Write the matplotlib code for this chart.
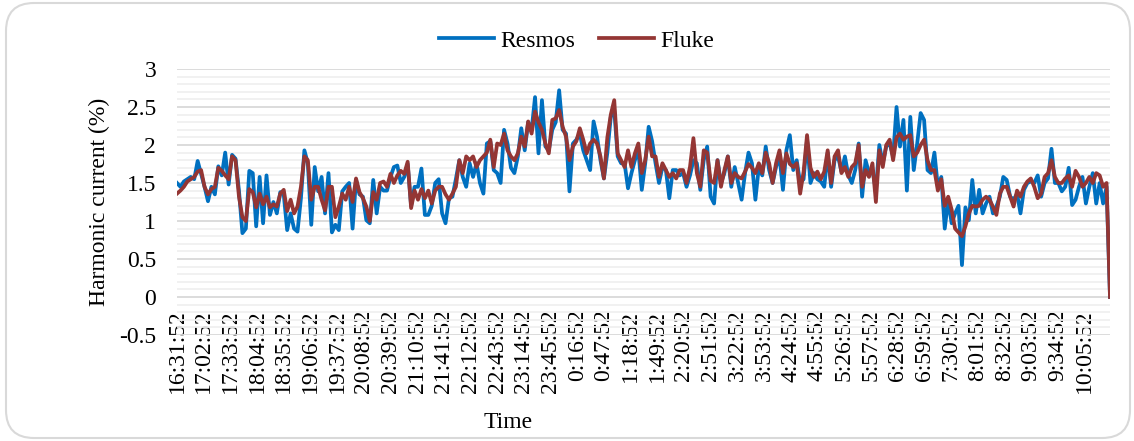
import numpy as np
import matplotlib
matplotlib.use("Agg")
import matplotlib.pyplot as plt
from matplotlib.ticker import MultipleLocator
from matplotlib.patches import FancyBboxPatch
from matplotlib.lines import Line2D

plt.rcParams['font.family'] = ['Liberation Serif', 'DejaVu Serif']

# ---- data (sampled every 4 minutes starting 16:31:52) ----
SAMPLE_MIN = 4
resmos = [
    # 16:31 - 19:31
    1.50, 1.45, 1.52, 1.55, 1.58, 1.55, 1.79, 1.62, 1.45, 1.26,
    1.45, 1.35, 1.72, 1.60, 1.90, 1.48, 1.87, 1.82, 1.40, 0.84,
    0.90, 1.66, 1.63, 0.93, 1.58, 0.97, 1.60, 1.08, 1.25, 1.10,
    1.38, 1.35, 0.88, 1.10, 0.90, 0.86, 1.30, 1.93, 1.76, 0.95,
    1.71, 1.39, 1.58, 1.10, 1.63, 0.85,
    # 19:35 - 22:35
    0.95, 0.88, 1.39, 1.45, 1.50, 0.90, 1.54, 1.35, 1.32, 1.01,
    0.97, 1.54, 1.10, 1.45, 1.40, 1.40, 1.58, 1.71, 1.73, 1.50,
    1.58, 1.75, 1.20, 1.45, 1.45, 1.69, 1.08, 1.08, 1.20, 1.50,
    1.55, 1.10, 0.97, 1.30, 1.32, 1.55, 1.80, 1.58, 1.45, 1.76,
    1.58, 1.76, 1.50, 1.36, 2.02, 2.05,
    # 22:39 - 1:35
    1.67, 1.63, 1.50, 2.20, 2.02, 1.70, 1.63, 1.85, 2.22, 1.93,
    2.30, 2.20, 2.63, 1.89, 2.59, 1.98, 1.93, 2.20, 2.30, 2.72,
    2.20, 2.15, 1.39, 2.02, 2.07, 2.15, 1.93, 1.80, 1.67, 2.31,
    2.11, 1.80, 1.56, 1.90, 2.37, 2.46, 1.85, 1.76, 1.76, 1.43,
    1.63, 1.80, 1.93, 1.41, 1.76,
    # 1:39 - 4:35
    2.24, 2.05, 1.76, 1.50, 1.71, 1.67, 1.30, 1.67, 1.67, 1.60,
    1.63, 1.45, 1.60, 1.80, 1.76, 1.41, 1.80, 1.98, 1.32, 1.23,
    1.80, 1.50, 1.63, 1.85, 1.45, 1.71, 1.50, 1.28, 1.63, 1.90,
    1.76, 1.28, 1.71, 1.60, 1.98, 1.67, 1.50, 1.71, 1.85, 1.41,
    1.93, 2.13, 1.67, 1.80, 1.50,
    # 4:39 - 7:35
    1.55, 2.07, 1.50, 1.63, 1.55, 1.52, 1.45, 1.90, 1.45, 1.80,
    1.85, 1.65, 1.85, 1.60, 1.50, 1.67, 2.02, 1.32, 1.80, 1.63,
    1.67, 1.40, 2.00, 1.76, 1.98, 2.02, 1.85, 2.50, 1.98, 2.33,
    1.40, 2.37, 1.67, 2.02, 2.42, 2.33, 1.67, 1.63, 1.90, 1.45,
    1.58, 0.90, 1.28, 0.97, 1.10,
    # 7:39 - 10:35
    1.20, 0.42, 1.18, 1.01, 1.54, 1.10, 1.41, 1.10, 1.23, 1.32,
    1.10, 1.19, 1.32, 1.58, 1.54, 1.32, 1.28, 1.36, 1.10, 1.41,
    1.50, 1.52, 1.50, 1.60, 1.32, 1.50, 1.56, 1.95, 1.50, 1.50,
    1.39, 1.45, 1.70, 1.21, 1.28, 1.45, 1.58, 1.23, 1.45, 1.63,
    1.23, 1.50, 1.23, 1.45, 0.00,
]
fluke = [
    # 16:31 - 19:31
    1.36, 1.40, 1.45, 1.52, 1.55, 1.58, 1.65, 1.67, 1.45, 1.35,
    1.42, 1.45, 1.70, 1.66, 1.60, 1.55, 1.85, 1.80, 1.32, 1.05,
    1.00, 1.42, 1.38, 1.18, 1.36, 1.22, 1.32, 1.18, 1.22, 1.19,
    1.36, 1.41, 1.13, 1.28, 1.10, 1.19, 1.45, 1.85, 1.80, 1.28,
    1.45, 1.45, 1.28, 1.14, 1.45, 1.45,
    # 19:35 - 22:35
    1.05, 1.19, 1.36, 1.28, 1.45, 1.25, 1.56, 1.38, 1.30, 1.19,
    1.00, 1.38, 1.28, 1.50, 1.52, 1.45, 1.62, 1.50, 1.60, 1.66,
    1.62, 1.78, 1.17, 1.40, 1.28, 1.42, 1.30, 1.40, 1.23, 1.40,
    1.45, 1.45, 1.35, 1.28, 1.36, 1.45, 1.80, 1.63, 1.85, 1.80,
    1.85, 1.71, 1.80, 1.85, 1.90, 2.07,
    # 22:39 - 1:35
    1.71, 2.02, 2.00, 2.15, 1.93, 1.85, 1.80, 1.89, 2.11, 1.98,
    2.31, 2.15, 2.44, 2.30, 2.20, 2.02, 1.89, 2.33, 2.35, 2.46,
    2.24, 2.11, 1.80, 1.98, 2.05, 2.22, 2.07, 1.89, 2.02, 2.07,
    2.02, 1.85, 1.56, 2.10, 2.40, 2.59, 1.89, 1.80, 1.71, 1.93,
    1.71, 1.89, 2.02, 1.63, 1.80,
    # 1:39 - 4:35
    2.11, 1.85, 1.85, 1.58, 1.76, 1.67, 1.58, 1.63, 1.56, 1.67,
    1.67, 1.50, 1.71, 2.09, 1.63, 1.45, 1.93, 1.90, 1.53, 1.50,
    1.80, 1.45, 1.67, 1.85, 1.50, 1.63, 1.58, 1.56, 1.65, 1.75,
    1.70, 1.63, 1.76, 1.63, 1.90, 1.76, 1.50, 1.76, 1.93, 1.63,
    1.89, 1.75, 1.71, 1.76, 1.36,
    # 4:39 - 7:35
    1.65, 2.13, 1.70, 1.58, 1.65, 1.55, 1.65, 1.93, 1.50, 1.85,
    1.93, 1.63, 1.71, 1.58, 1.71, 1.76, 2.00, 1.45, 1.67, 1.58,
    1.76, 1.25, 1.93, 1.71, 2.00, 2.07, 1.80, 2.10, 2.15, 2.07,
    2.11, 2.13, 1.85, 1.90, 2.00, 2.07, 1.80, 1.67, 1.67, 1.40,
    1.55, 1.20, 1.32, 1.15, 0.90,
    # 7:39 - 10:35
    0.85, 0.80, 0.93, 1.10, 1.20, 1.19, 1.20, 1.28, 1.32, 1.28,
    1.19, 1.08, 1.36, 1.45, 1.45, 1.32, 1.19, 1.40, 1.32, 1.45,
    1.52, 1.56, 1.45, 1.30, 1.36, 1.58, 1.63, 1.80, 1.58, 1.50,
    1.50, 1.56, 1.60, 1.45, 1.66, 1.58, 1.45, 1.50, 1.58, 1.50,
    1.63, 1.60, 1.45, 1.50, 0.00,
]
tick_labels = [
    "16:31:52", "17:02:52", "17:33:52", "18:04:52", "18:35:52", "19:06:52",
    "19:37:52", "20:08:52", "20:39:52", "21:10:52", "21:41:52", "22:12:52",
    "22:43:52", "23:14:52", "23:45:52", "0:16:52", "0:47:52", "1:18:52",
    "1:49:52", "2:20:52", "2:51:52", "3:22:52", "3:53:52", "4:24:52",
    "4:55:52", "5:26:52", "5:57:52", "6:28:52", "6:59:52", "7:30:52",
    "8:01:52", "8:32:52", "9:03:52", "9:34:52", "10:05:52",
]
TICK_EVERY_MIN = 31
series_names = ["Resmos", "Fluke"]
colors = ["#0070C0", "#943634"]

# ---- figure ----
W, H = 1134, 441
FS = 17
LW = 2.7
fig = plt.figure(figsize=(W / 100, H / 100), dpi=100)

# rounded outer border
border = FancyBboxPatch((0.06, 0.03), 11.24, 4.35,
                        boxstyle="round,pad=0,rounding_size=0.28",
                        transform=fig.dpi_scale_trans, facecolor="white",
                        edgecolor="#d9d9d9", lw=1.5, zorder=-10)
fig.patches.append(border)

ax = fig.add_axes([177 / W, 1 - 335 / H, (1110 - 177) / W, (335 - 69) / H])
ax.set_facecolor("none")

x = np.arange(len(resmos)) * SAMPLE_MIN
ax.plot(x, resmos, color=colors[0], lw=LW, solid_joinstyle="round", zorder=3)
ax.plot(x, fluke, color=colors[1], lw=LW, solid_joinstyle="round", zorder=4)

ax.set_xlim(0, x[-1])
ax.set_ylim(-0.5, 3)
ax.yaxis.set_major_locator(MultipleLocator(0.5))
ax.yaxis.set_minor_locator(MultipleLocator(0.1))
ax.grid(which="major", axis="y", color="#d9d9d9", lw=1.3, zorder=0)
ax.grid(which="minor", axis="y", color="#f0f0f0", lw=1.3, zorder=0)
ax.grid(False, axis="x")
ax.set_axisbelow(True)
for s in ax.spines.values():
    s.set_visible(False)
ax.spines["bottom"].set_position(("data", 0))

ax.set_yticks([-0.5, 0, 0.5, 1, 1.5, 2, 2.5, 3])
ax.set_yticklabels(["-0.5", "0", "0.5", "1", "1.5", "2", "2.5", "3"])
tick_pos = np.arange(len(tick_labels)) * TICK_EVERY_MIN
ax.set_xticks(tick_pos)
ax.set_xticklabels(tick_labels, rotation=90)
ax.tick_params(axis="x", length=0, pad=9, labelsize=FS)
ax.tick_params(axis="y", which="both", length=0, pad=15, labelsize=FS)

fig.text(99 / W, 1 - 202 / H, "Harmonic current (%)", rotation=90,
         ha="center", va="center", fontsize=FS)
fig.text(508 / W, 1 - 423 / H, "Time", ha="center", va="center", fontsize=FS)

handles = [Line2D([], [], color=c, lw=LW) for c in colors]
fig.legend(handles, series_names, loc="center", bbox_to_anchor=(577 / W, 1 - 41 / H),
           ncol=2, frameon=False, fontsize=FS, handlelength=2.3,
           handletextpad=0.3, columnspacing=1.0)

fig.savefig("out.png", dpi=100)
